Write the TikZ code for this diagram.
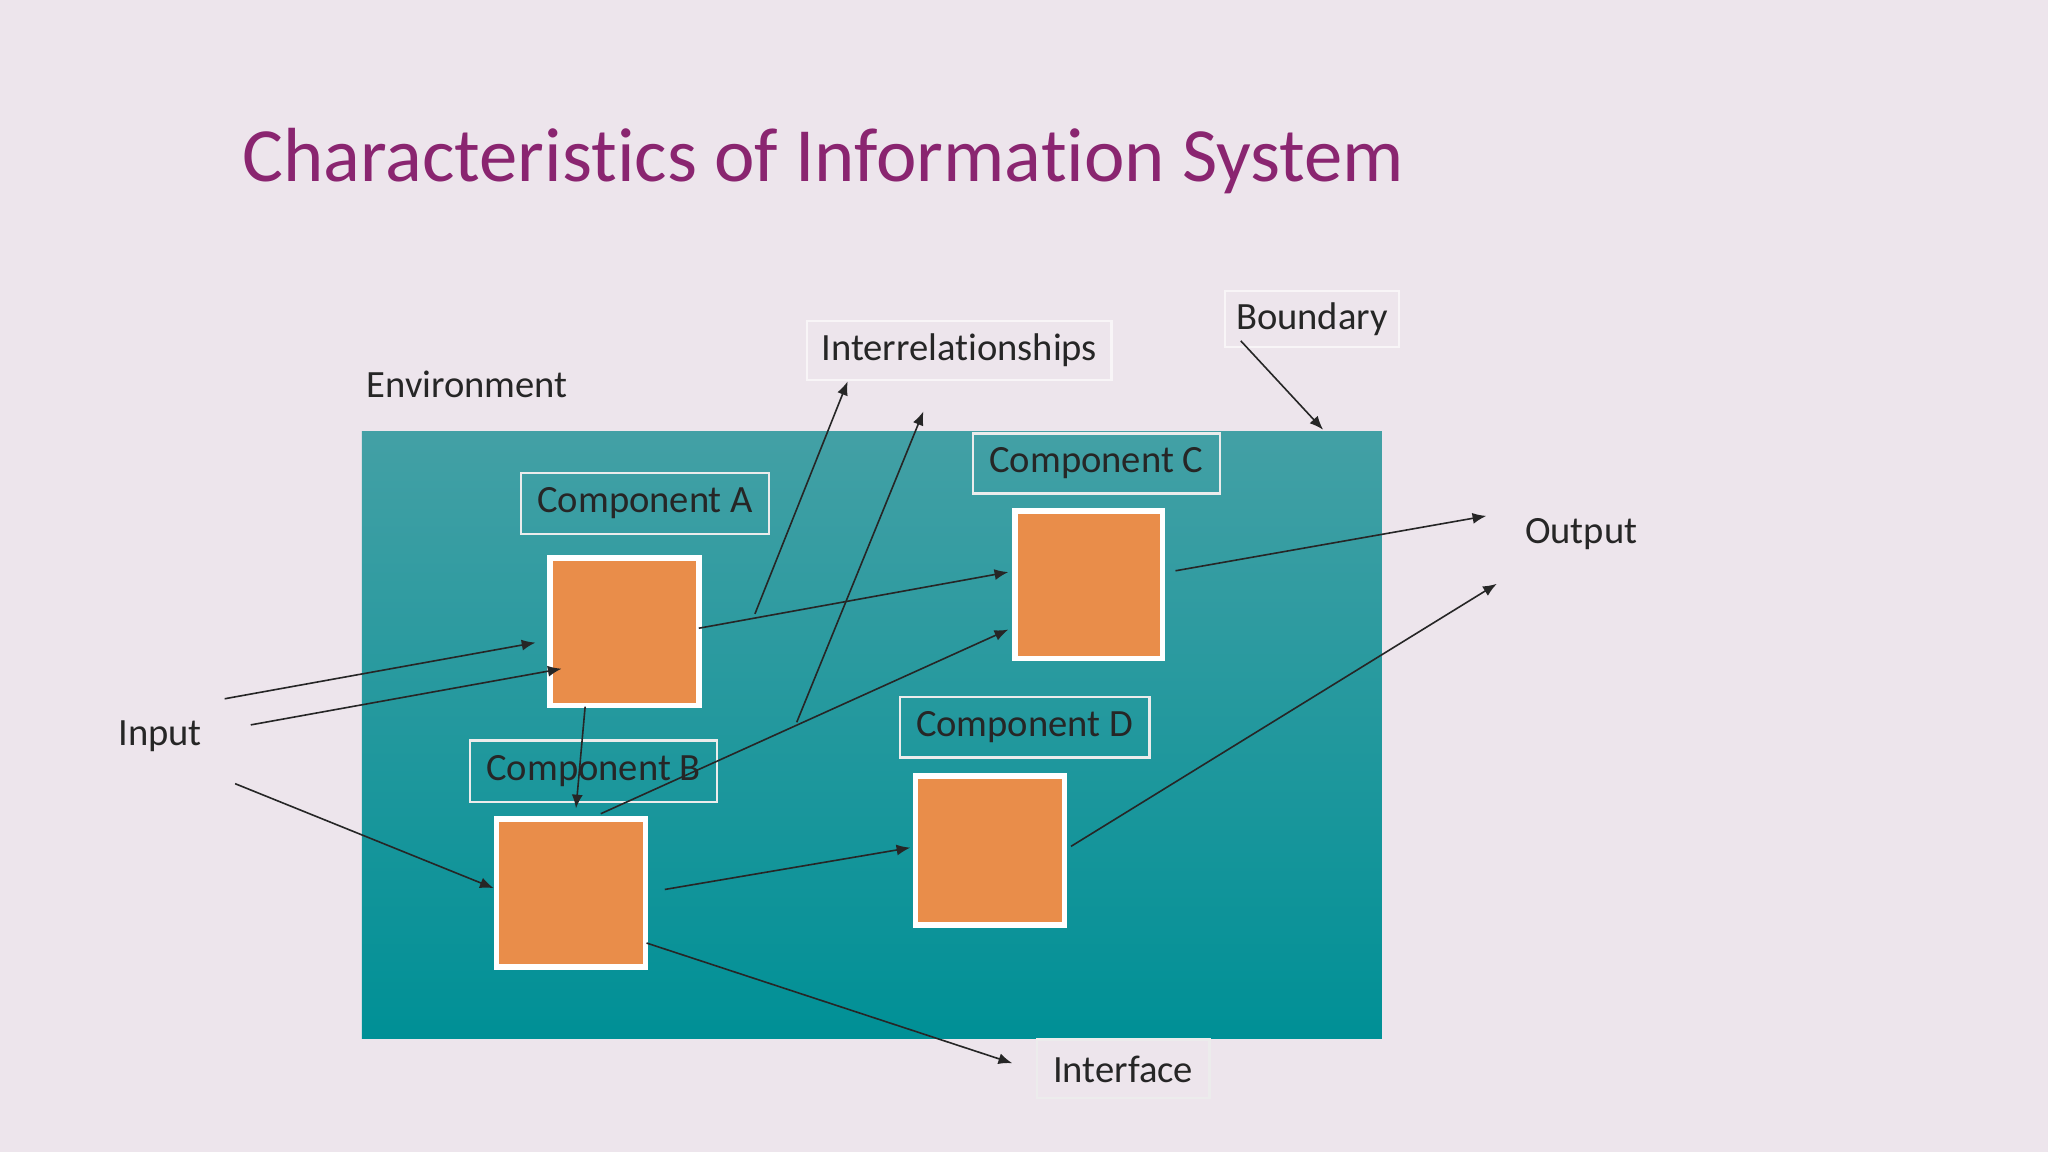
\documentclass[tikz,border=0pt]{standalone}
\usepackage{fontspec}
\setmainfont[RawFeature={-liga}]{Carlito}
\usetikzlibrary{arrows.meta}
\definecolor{bg}{HTML}{EDE5EC}
\definecolor{ttl}{HTML}{8A2570}
\definecolor{tealtop}{HTML}{43A0A5}
\definecolor{tealmid}{HTML}{13979C}
\definecolor{tealbot}{HTML}{009096}
\definecolor{org}{HTML}{E98D4A}
\definecolor{txt}{HTML}{262626}
\begin{document}
\begin{tikzpicture}[x=0.01cm,y=-0.01cm,
  sq/.style={draw=white,line width=1.2pt,fill=org,anchor=north west,inner sep=0pt},
  lbl/.style={draw=white!85!gray,line width=0.5pt,text=txt,font=\fontsize{8.4pt}{9pt}\selectfont,inner sep=0pt,anchor=north west},
  plain/.style={text=txt,font=\fontsize{8.4pt}{9pt}\selectfont,inner sep=0pt},
  arr/.style={draw=txt,line width=0.35pt,-{Latex[length=3pt,width=2.4pt]}}]
\useasboundingbox (0,0) rectangle (1568,882);
\fill[bg] (0,0) rectangle (1568,882);
\node[anchor=base west,inner sep=0pt,text=ttl,font=\fontsize{16.7pt}{18pt}\selectfont] (title) at (185,139) {Characteristics of Information System};
\shade[top color=tealtop,middle color=tealmid,bottom color=tealbot] (277,330) rectangle (1058,795);
\node[sq,minimum width=1.14cm,minimum height=1.13cm] (A) at (419,425) {};
\node[sq,minimum width=1.13cm,minimum height=1.13cm] (C) at (775,389) {};
\node[sq,minimum width=1.14cm,minimum height=1.13cm] (B) at (378,625) {};
\node[sq,minimum width=1.14cm,minimum height=1.14cm] (D) at (699,592) {};
\node[lbl,minimum width=1.90cm,minimum height=0.47cm] (la) at (398,361) {Component A};
\node[lbl,minimum width=1.89cm,minimum height=0.46cm] (lc) at (744,331) {Component C};
\node[lbl,minimum width=1.89cm,minimum height=0.47cm] (lb) at (359,566) {Component B};
\node[lbl,minimum width=1.91cm,minimum height=0.46cm] (ld) at (688,533) {Component D};
\node[lbl,draw=white!60!bg,minimum width=2.33cm,minimum height=0.45cm] (li) at (617,245) {Interrelationships};
\node[lbl,draw=white!60!bg,minimum width=1.33cm,minimum height=0.43cm] (lbd) at (937,222) {Boundary};
\node[lbl,minimum width=1.32cm,minimum height=0.45cm] (lif) at (793,795) {Interface};
\node[plain,anchor=west] (env) at (280,294) {Environment};
\node[plain,anchor=west] (inp) at (90,564) {Input};
\node[plain,anchor=west] (out) at (1167,409) {Output};
\foreach \n/\x/\y in {i1s/172/535,i1e/410/492,i2s/192/555,i2e/430/512,i3s/180/600,i3e/378/680,
 abs/448/541,abe/441/619,acs/535/481,ace/772/438,bcs/460/623,bce/772/482,bds/509/681,bde/697/649,
 cos/900/437,coe/1138/395,dos/820/648,doe/1146/447,ifs/495/722,ife/775/814,
 r1s/578/470,r1e/649/292,r2s/610/553,r2e/707/315,bos/950/261,boe/1013/329}
 \coordinate (\n) at (\x,\y);
\foreach \s/\e in {i1s/i1e,i2s/i2e,i3s/i3e,abs/abe,acs/ace,bcs/bce,bds/bde,cos/coe,dos/doe,ifs/ife,r1s/r1e,r2s/r2e,bos/boe}
 \draw[arr] (\s) -- (\e);
\end{tikzpicture}
\end{document}
